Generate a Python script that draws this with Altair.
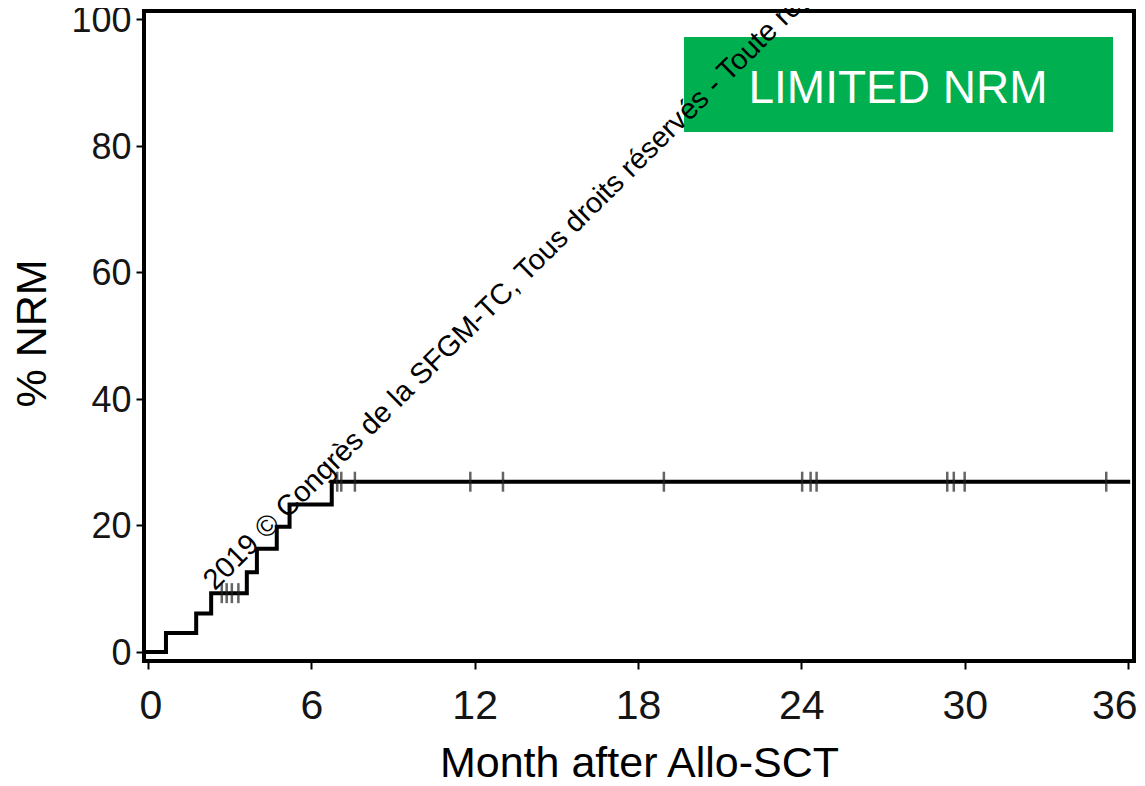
import altair as alt
import pandas as pd

# Step curve (cumulative incidence of NRM, %)
step_months = [-0.15, 0.66, 1.77, 2.32, 3.63, 4.0, 4.73, 5.2, 6.75, 36.08]
step_nrm = [0.0, 3.0, 6.1, 9.3, 12.6, 16.3, 19.8, 23.3, 26.9, 26.9]

# Censoring marks
cens_months = [2.71, 2.89, 3.08, 3.32,
               6.95, 7.1, 7.6, 11.84, 13.04, 18.95,
               24.03, 24.34, 24.56, 29.36, 29.6, 30.0, 35.2]
cens_nrm = [9.3, 9.3, 9.3, 9.3,
            26.9, 26.9, 26.9, 26.9, 26.9, 26.9,
            26.9, 26.9, 26.9, 26.9, 26.9, 26.9, 26.9]

x_ticks = [0, 6, 12, 18, 24, 30, 36]
y_ticks = [0, 20, 40, 60, 80, 100]

# Annotation box
box_label = ["LIMITED NRM"]
box_x = [19.69]
box_x2 = [35.45]
box_y = [82.15]
box_y2 = [97.16]
box_tx = [27.55]
box_ty = [88.97]

# Watermark text
wm_text = ["2019 © Congrès de la SFGM-TC, Tous droits réservés - Toute reproduction"]
wm_x = [2.45]
wm_y = [9.6]

FONT = "Liberation Sans"

xs = alt.Scale(domain=[-0.147, 36.22], nice=False, zero=False)
ys = alt.Scale(domain=[-1.42, 101.26], nice=False, zero=False)

step_df = pd.DataFrame({"month": step_months, "nrm": step_nrm})
cens_df = pd.DataFrame({"month": cens_months, "nrm": cens_nrm})
box_df = pd.DataFrame({"label": box_label, "x": box_x, "x2": box_x2,
                       "y": box_y, "y2": box_y2, "tx": box_tx, "ty": box_ty})
wm_df = pd.DataFrame({"t": wm_text, "x": wm_x, "y": wm_y})

x_axis = alt.Axis(values=x_ticks, title="Month after Allo-SCT", grid=False, domain=False,
                  tickSize=8, tickWidth=2, tickColor="black",
                  labelFontSize=41, labelFont=FONT, labelColor="#151515",
                  labelBaseline="alphabetic", labelPadding=49,
                  labelFlush=7, labelFlushOffset=9,
                  titleFontSize=43, titleFont=FONT, titleFontWeight="normal",
                  titleColor="black", titleBaseline="alphabetic", titleY=115, titleX=495)
y_axis = alt.Axis(values=y_ticks, title="% NRM", grid=False, domain=False,
                  tickSize=8, tickWidth=2, tickColor="black",
                  labelFontSize=36, labelFont=FONT, labelColor="#151515",
                  labelPadding=5, labelOffset=1.5,
                  titleFontSize=43, titleFont=FONT, titleFontWeight="normal",
                  titleColor="black", titleAngle=270, titleAlign="center",
                  titleBaseline="alphabetic", titleX=-99, titleY=322)

line = alt.Chart(step_df).mark_line(interpolate="step-after", color="black",
                                    strokeWidth=4).encode(
    x=alt.X("month:Q", scale=xs, axis=x_axis),
    y=alt.Y("nrm:Q", scale=ys, axis=y_axis),
)

cens = alt.Chart(cens_df).mark_tick(orient="vertical", color="#222222", size=20,
                                    thickness=2.5).encode(
    x=alt.X("month:Q", scale=xs),
    y=alt.Y("nrm:Q", scale=ys),
)

box = alt.Chart(box_df).mark_rect(color="#00B050").encode(
    x=alt.X("x:Q", scale=xs), x2="x2:Q",
    y=alt.Y("y:Q", scale=ys), y2="y2:Q",
)
box_text = alt.Chart(box_df).mark_text(color="white", fontSize=46, font=FONT,
                                       align="center", baseline="middle").encode(
    x=alt.X("tx:Q", scale=xs), y=alt.Y("ty:Q", scale=ys), text="label:N",
)

wm = alt.Chart(wm_df).mark_text(color="black", fontSize=29, font=FONT, angle=315.3,
                                align="left", baseline="alphabetic").encode(
    x=alt.X("x:Q", scale=xs), y=alt.Y("y:Q", scale=ys), text="t:N",
)

chart = alt.layer(box, box_text, line, cens, wm).properties(
    width=990, height=650,
    autosize=alt.AutoSizeParams(type="none"),
    padding={"left": 136, "top": 3, "right": 3, "bottom": 117},
    background="white",
).configure_view(stroke="black", strokeWidth=4)

chart.save("out.html", embed_options={"renderer": "svg", "actions": False})
